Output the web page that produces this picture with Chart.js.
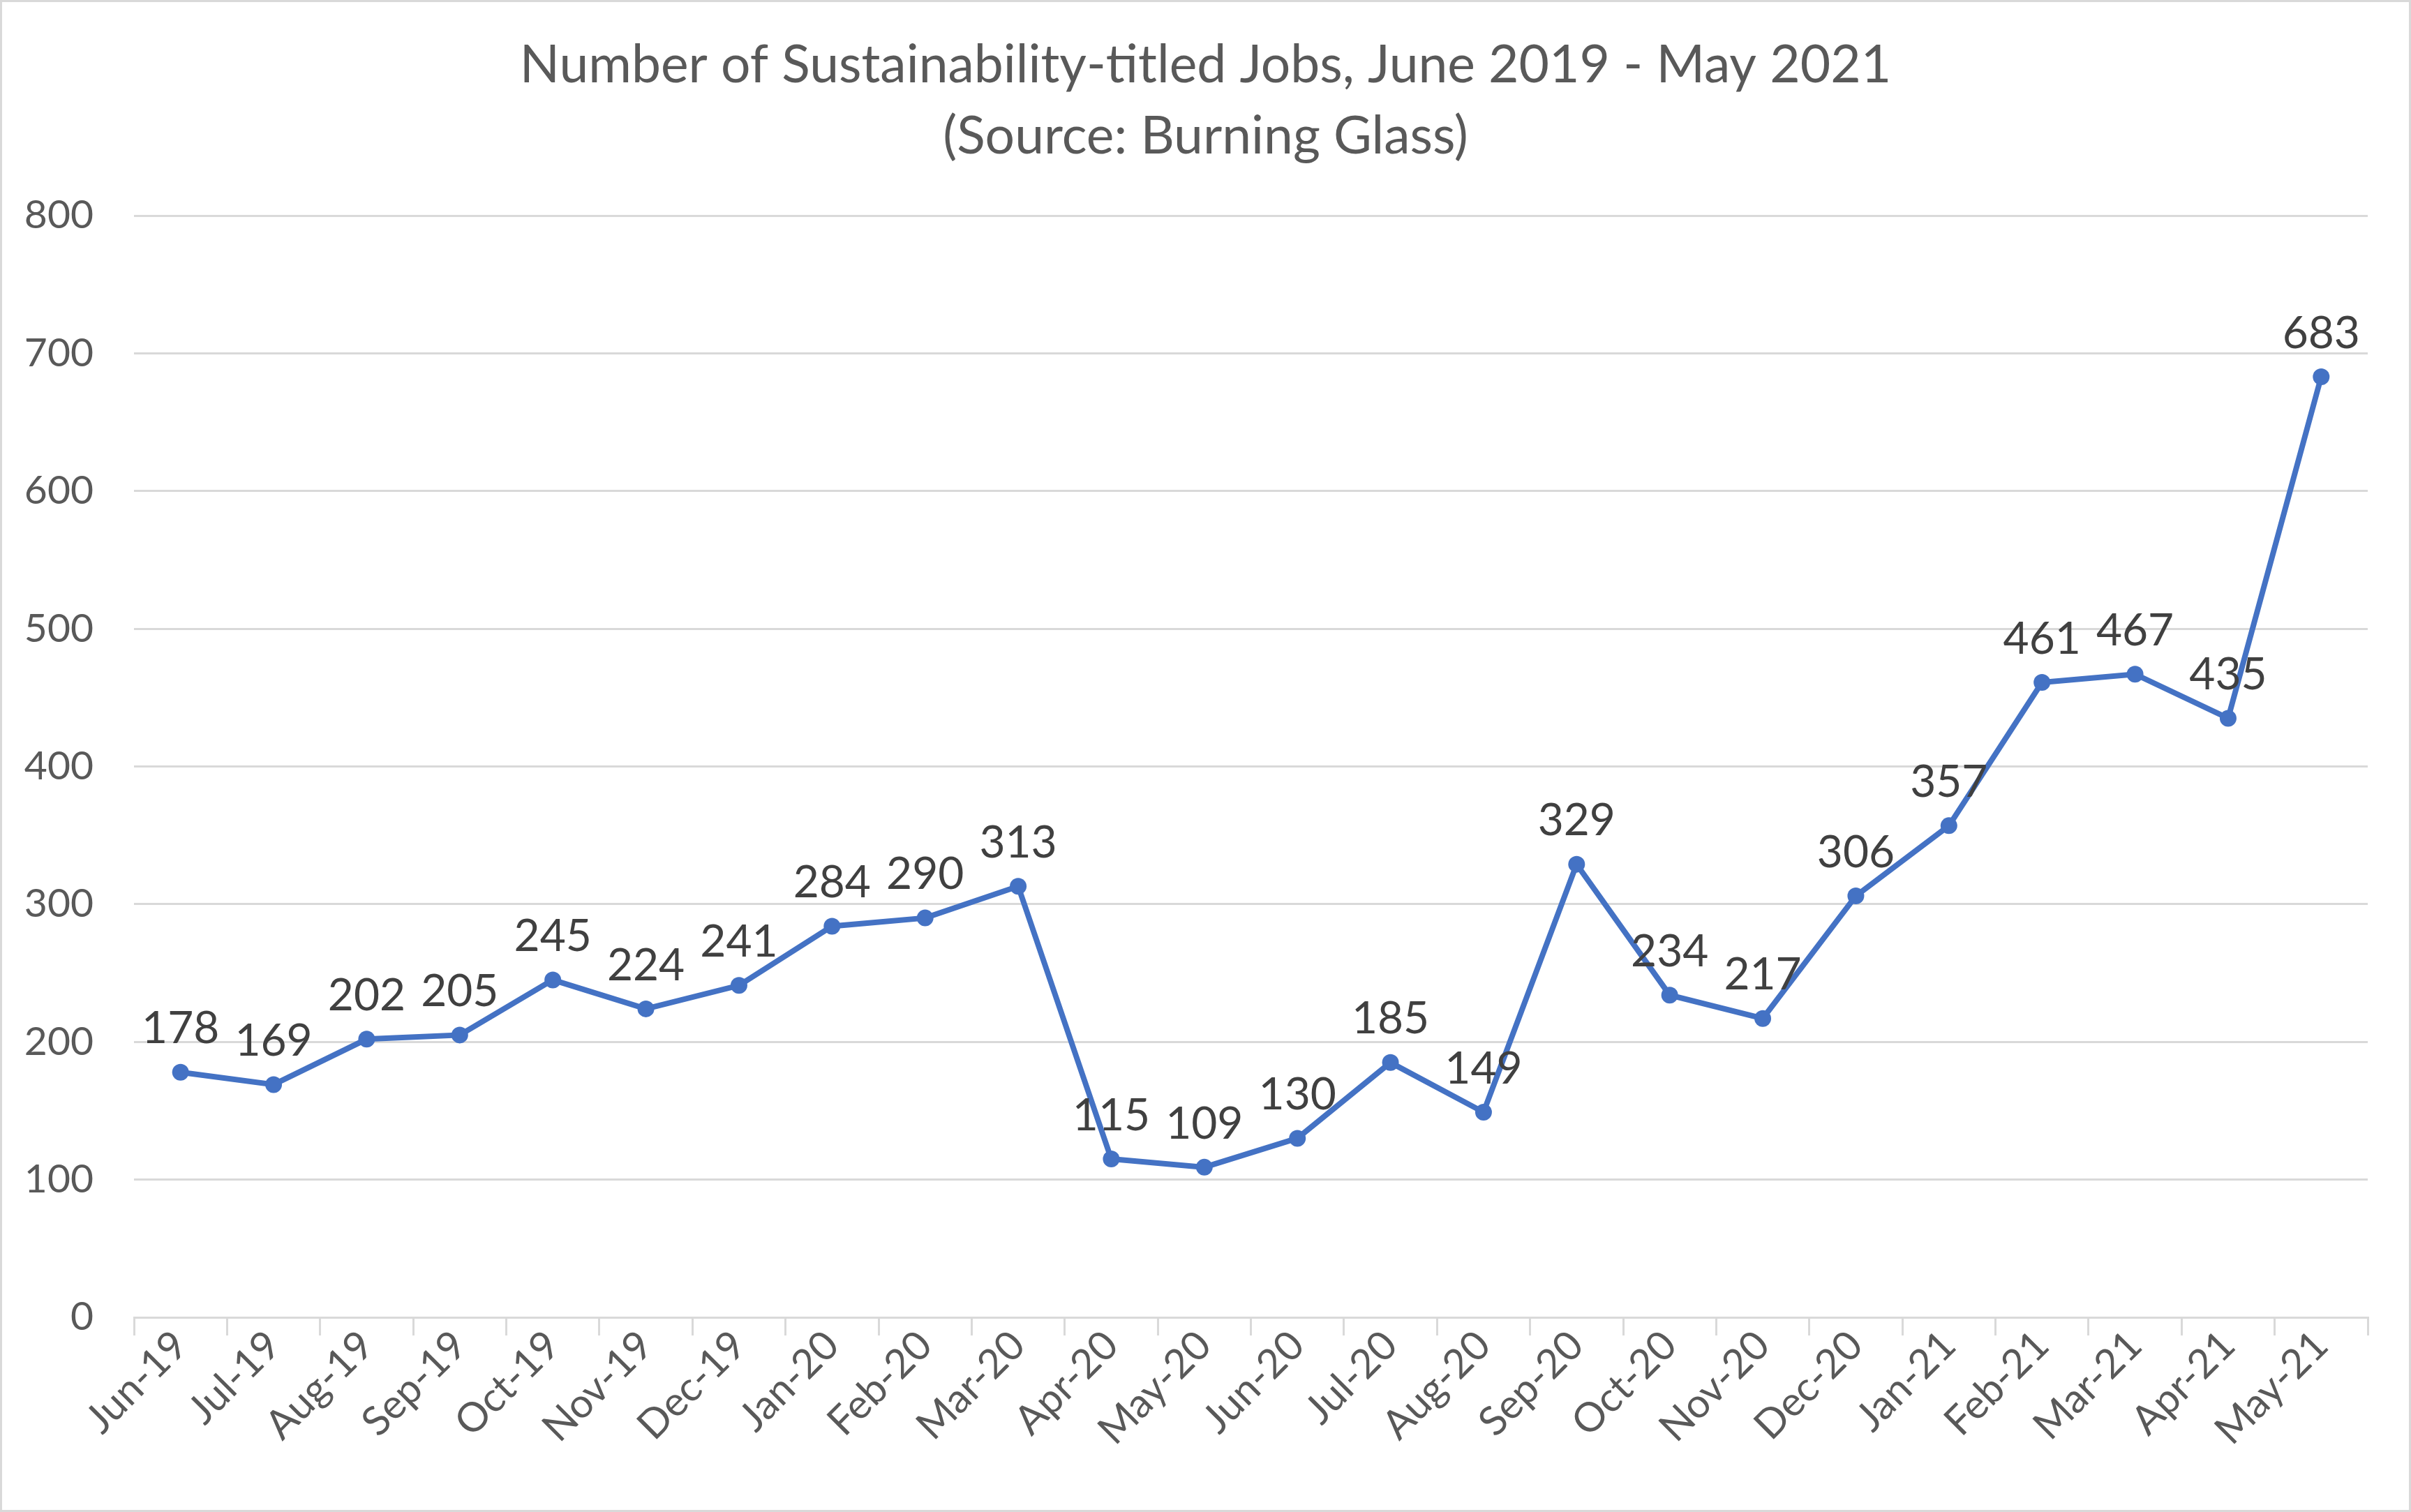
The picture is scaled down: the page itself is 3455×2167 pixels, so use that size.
<!DOCTYPE html>
<html>
<head>
<meta charset="utf-8">
<script src="https://cdn.jsdelivr.net/npm/chart.js@4/dist/chart.umd.min.js"></script>
<style>
  html, body { margin: 0; padding: 0; background: #fff; }
  #wrap { width: 3455px; height: 2167px; box-sizing: border-box; border: 3px solid #d9d9d9; }
  canvas { display: block; }
</style>
</head>
<body>
<div id="wrap"><canvas id="jobs" width="3449" height="2161"></canvas></div>
<script>
// 월별 라벨 / 값
var months = ["Jun-19","Jul-19","Aug-19","Sep-19","Oct-19","Nov-19","Dec-19","Jan-20","Feb-20","Mar-20","Apr-20","May-20",
              "Jun-20","Jul-20","Aug-20","Sep-20","Oct-20","Nov-20","Dec-20","Jan-21","Feb-21","Mar-21","Apr-21","May-21"];
var jobCounts = [178,169,202,205,245,224,241,284,290,313,115,109,130,185,149,329,234,217,306,357,461,467,435,683];
var yTicks = [0,100,200,300,400,500,600,700,800];
var titleLines = ["Number of Sustainability-titled Jobs, June 2019 - May 2021", "(Source: Burning Glass)"];

Chart.defaults.font.family = "Lato";
Chart.defaults.color = "#595959";

// 점 위에 값 표시
var valueLabels = {
  id: "valueLabels",
  afterDatasetsDraw: function(chart){
    var ctx = chart.ctx;
    var meta = chart.getDatasetMeta(0);
    ctx.save();
    ctx.font = "64px Lato";
    ctx.fillStyle = "#404040";
    ctx.textAlign = "center";
    ctx.textBaseline = "bottom";
    meta.data.forEach(function(pt, i){
      ctx.fillText(String(jobCounts[i]), pt.x, pt.y - 30);
    });
    ctx.restore();
  }
};

new Chart(document.getElementById("jobs"), {
  type: "line",
  data: {
    labels: months,
    datasets: [{
      label: "Jobs",
      data: jobCounts,
      borderColor: "#4472C4",
      backgroundColor: "#4472C4",
      borderWidth: 8,
      pointRadius: 12,
      pointBorderWidth: 0,
      pointBackgroundColor: "#4472C4",
      tension: 0
    }]
  },
  options: {
    responsive: false,
    animation: false,
    devicePixelRatio: 1,
    layout: { padding: 0 },
    plugins: {
      legend: { display: false },
      tooltip: { enabled: false },
      title: {
        display: true,
        text: titleLines,
        color: "#595959",
        font: { size: 75, weight: "normal", lineHeight: 1.36 },
        padding: { top: 40, bottom: 62 }
      }
    },
    scales: {
      x: {
        offset: true,
        grid: { display: true, offset: true, drawOnChartArea: false, drawTicks: true, tickLength: 26, color: "#d9d9d9", lineWidth: 3 },
        border: { display: true, color: "#d9d9d9", width: 3 },
        ticks: { minRotation: 45, maxRotation: 45, autoSkip: false, padding: -20, font: { size: 58 }, color: "#595959" },
        afterFit: function(s){ s.height = 276; }
      },
      y: {
        min: 0, max: 800,
        afterBuildTicks: function(s){ s.ticks = yTicks.map(function(v){ return { value: v }; }); },
        grid: { color: "#d9d9d9", lineWidth: 3, drawTicks: false },
        border: { display: false },
        ticks: { padding: 58, font: { size: 57 }, color: "#595959" },
        afterFit: function(s){ s.width = 189; }
      },
      // 오른쪽 여백용 빈 축
      yRight: {
        position: "right",
        min: 0, max: 800,
        grid: { display: false, drawTicks: false },
        border: { display: false },
        ticks: { display: false },
        afterFit: function(s){ s.width = 59; }
      }
    }
  },
  plugins: [valueLabels]
});
</script>
</body>
</html>
